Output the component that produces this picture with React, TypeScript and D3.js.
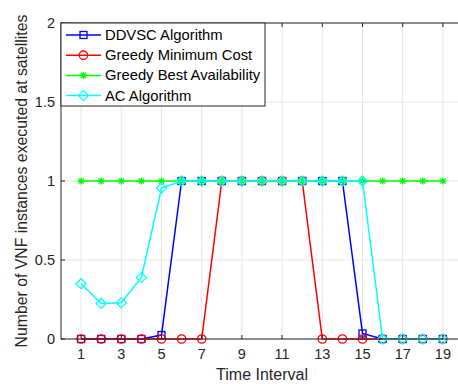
import * as d3 from 'd3'

const intervals = [1, 2, 3, 4, 5, 6, 7, 8, 9, 10, 11, 12, 13, 14, 15, 16, 17, 18, 19]
const ddvsc = [0, 0, 0, 0, 0.025, 1, 1, 1, 1, 1, 1, 1, 1, 1, 0.035, 0, 0, 0, 0]
const greedyMinCost = [0, 0, 0, 0, 0, 0, 0, 1, 1, 1, 1, 1, 0, 0, 0, 0, 0, 0, 0]
const greedyBestAvail = [1, 1, 1, 1, 1, 1, 1, 1, 1, 1, 1, 1, 1, 1, 1, 1, 1, 1, 1]
const acAlgorithm = [0.35, 0.225, 0.23, 0.39, 0.955, 1, 1, 1, 1, 1, 1, 1, 1, 1, 1, 0, 0, 0, 0]

const xTicks = [1, 3, 5, 7, 9, 11, 13, 15, 17, 19]
const yTicks = [0, 0.5, 1, 1.5, 2]

type MarkerKind = 'square' | 'circle' | 'asterisk' | 'diamond'

const series: { name: string; values: number[]; color: string; marker: MarkerKind }[] = [
  { name: 'DDVSC Algorithm', values: ddvsc, color: '#0000ff', marker: 'square' },
  { name: 'Greedy Minimum Cost', values: greedyMinCost, color: '#ff0000', marker: 'circle' },
  { name: 'Greedy Best Availability', values: greedyBestAvail, color: '#00ff00', marker: 'asterisk' },
  { name: 'AC Algorithm', values: acAlgorithm, color: '#00ffff', marker: 'diamond' },
]

const W = 458
const H = 384
const m = { left: 61, right: 463, top: 23, bottom: 339 }
const font = '"Liberation Sans", Arial, Helvetica, sans-serif'
const axisColor = '#262626'

function Marker({ kind, x, y, color }: { kind: MarkerKind; x: number; y: number; color: string }) {
  const sw = 1.3
  if (kind === 'square') {
    return <rect x={x - 3.5} y={y - 3.5} width={7} height={7} fill="none" stroke={color} strokeWidth={sw} />
  }
  if (kind === 'circle') {
    return <circle cx={x} cy={y} r={4.2} fill="none" stroke={color} strokeWidth={sw} />
  }
  if (kind === 'diamond') {
    const s = 5
    return (
      <path d={`M${x},${y - s}L${x + s},${y}L${x},${y + s}L${x - s},${y}Z`} fill="none" stroke={color} strokeWidth={sw} />
    )
  }
  const s = 3.5
  const d = s * 0.75
  return (
    <path
      d={`M${x - s},${y}L${x + s},${y}M${x},${y - s}L${x},${y + s}M${x - d},${y - d}L${x + d},${y + d}M${x - d},${y + d}L${x + d},${y - d}`}
      stroke={color}
      strokeWidth={1.3}
      fill="none"
    />
  )
}

export default function App() {
  const x = d3.scaleLinear().domain([0, 20]).range([m.left, m.right])
  const y = d3.scaleLinear().domain([0, 2]).range([m.bottom, m.top])
  const line = d3
    .line<number>()
    .x((_, i) => x(intervals[i]))
    .y((v) => y(v))

  const legend = { x: m.left, y: m.top, w: 204, h: 83 }

  return (
    <svg width={W} height={H} style={{ position: 'absolute', left: 0, top: 0, background: '#fff' }} fontFamily={font}>
      {/* grid */}
      {xTicks.map((t) => (
        <line key={'gx' + t} x1={x(t)} x2={x(t)} y1={m.top} y2={m.bottom} stroke="#e6e6e6" strokeWidth={1} />
      ))}
      {yTicks.map((t) => (
        <line key={'gy' + t} x1={m.left} x2={m.right} y1={y(t)} y2={y(t)} stroke="#e6e6e6" strokeWidth={1} />
      ))}

      {/* series */}
      {series.map((s) => (
        <g key={s.name}>
          <path d={line(s.values) ?? ''} fill="none" stroke={s.color} strokeWidth={1.5} />
          {s.values.map((v, i) => (
            <Marker key={i} kind={s.marker} x={x(intervals[i])} y={y(v)} color={s.color} />
          ))}
        </g>
      ))}

      {/* axes box */}
      <rect x={m.left} y={m.top} width={m.right - m.left} height={m.bottom - m.top} fill="none" stroke={axisColor} strokeWidth={1} />
      {xTicks.map((t) => (
        <g key={'tx' + t}>
          <line x1={x(t)} x2={x(t)} y1={m.bottom} y2={m.bottom - 4} stroke={axisColor} />
          <line x1={x(t)} x2={x(t)} y1={m.top} y2={m.top + 4} stroke={axisColor} />
          <text x={x(t)} y={359} textAnchor="middle" fontSize={14.5} fill={axisColor}>
            {t}
          </text>
        </g>
      ))}
      {yTicks.map((t) => (
        <g key={'ty' + t}>
          <line x1={m.left} x2={m.left + 4} y1={y(t)} y2={y(t)} stroke={axisColor} />
          <text x={55} y={y(t) + 5} textAnchor="end" fontSize={14.5} fill={axisColor}>
            {t}
          </text>
        </g>
      ))}
      <text x={262} y={380} textAnchor="middle" fontSize={16} fill={axisColor}>
        Time Interval
      </text>
      <text
        transform={`translate(27,${(m.top + m.bottom) / 2}) rotate(-90)`}
        textAnchor="middle"
        fontSize={15.8}
        fill={axisColor}
      >
        Number of VNF instances executed at satellites
      </text>

      {/* legend */}
      <rect x={legend.x} y={legend.y} width={legend.w} height={legend.h} fill="#fff" stroke={axisColor} strokeWidth={1} />
      {series.map((s, i) => {
        const ly = 35 + i * 20.2
        return (
          <g key={'lg' + s.name}>
            <line x1={66} x2={101} y1={ly} y2={ly} stroke={s.color} strokeWidth={1.5} />
            <Marker kind={s.marker} x={83.5} y={ly} color={s.color} />
            <text x={105} y={ly + 5} fontSize={14.8} fill="#000">
              {s.name}
            </text>
          </g>
        )
      })}
    </svg>
  )
}
